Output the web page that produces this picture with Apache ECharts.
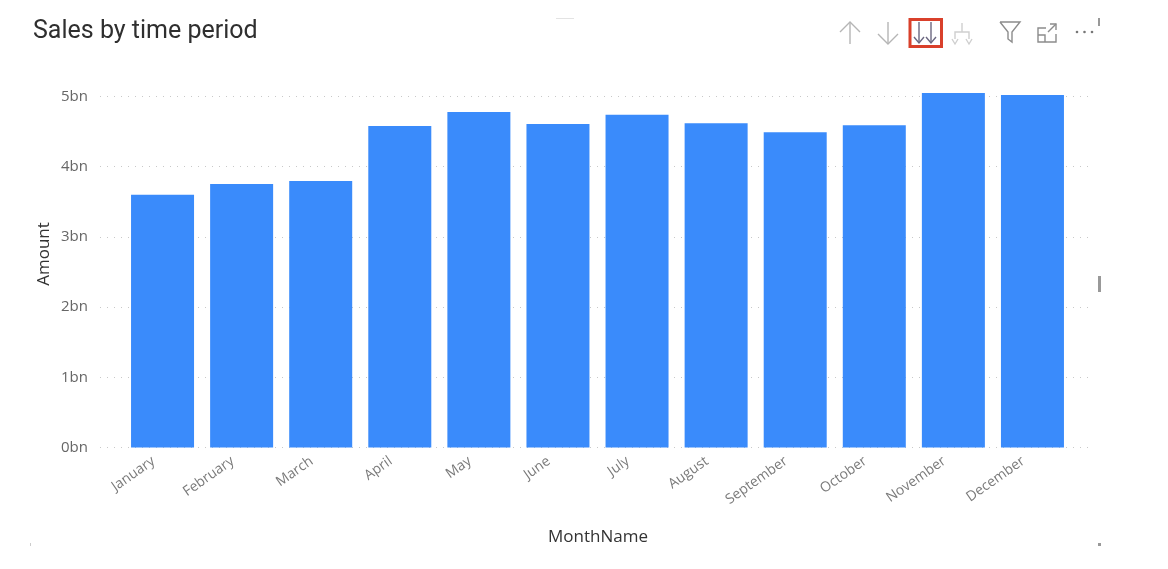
<!DOCTYPE html>
<html><head><meta charset="utf-8">
<style>html,body{margin:0;padding:0;background:#fff}#c{width:1168px;height:569px}</style>
<script src="https://cdn.jsdelivr.net/npm/echarts@6/dist/echarts.min.js"></script>
</head><body><div id="c"></div>
<script>
const categories=['January','February','March','April','May','June','July','August','September','October','November','December'];
const amounts=[3.6,3.755,3.795,4.58,4.78,4.61,4.74,4.62,4.49,4.59,5.05,5.02];
const chartTitle='Sales by time period';
const xName='MonthName', yName='Amount';
const ic=(x,y,stroke,lines)=>({type:'group',x:x,y:y,silent:true,children:lines.map(p=>({type:'polyline',shape:{points:p},style:{fill:'none',stroke:stroke,lineWidth:1.4}}))});
const chart=echarts.init(document.getElementById('c'),null,{renderer:'canvas'});
chart.setOption({
 animation:false,backgroundColor:'#fff',
 grid:[{left:100,width:994,top:26.3,height:421.2},{left:123,width:949,top:26.3,height:421.2}],
 xAxis:[
  {gridIndex:0,type:'category',data:categories,show:false},
  {gridIndex:1,type:'category',data:categories,axisLine:{show:false},axisTick:{show:false},
   axisLabel:{rotate:35,interval:0,color:'#7a7a7a',fontFamily:'Open Sans',fontSize:14,margin:6,padding:[0,11,0,0]}}
 ],
 yAxis:[
  {gridIndex:0,type:'value',min:0,max:6,interval:1,axisLine:{show:false},axisTick:{show:false},
   splitLine:{showMaxLine:false,lineStyle:{type:[1,6],color:'#c8c8c8',width:1}},
   axisLabel:{showMaxLabel:false,formatter:v=>v+'bn',color:'#666',fontFamily:'Open Sans',fontSize:15,margin:12}},
  {gridIndex:1,type:'value',min:0,max:6,interval:1,show:false}
 ],
 series:[{type:'bar',xAxisIndex:1,yAxisIndex:1,data:amounts,barWidth:63,itemStyle:{color:'#3a8bfb'}}],
 graphic:[
  {type:'text',x:33,y:19,style:{text:chartTitle,font:'25px Roboto, sans-serif',fill:'#2f2f2f'},silent:true},
  {type:'text',x:598,y:537,style:{text:xName,font:'17px "Open Sans", sans-serif',fill:'#333',align:'center',verticalAlign:'middle'}},
  {type:'text',x:44,y:254,rotation:Math.PI/2,style:{text:yName,font:'17px "Open Sans", sans-serif',fill:'#333',align:'center',verticalAlign:'middle'}},
  ic(840,22,'#b5b5b5',[[[0,10],[10,0],[20,10]],[[10,0],[10,22]]]),
  ic(878,22,'#b5b5b5',[[[0,12],[10,22],[20,12]],[[10,0],[10,22]]]),
  {type:'rect',shape:{x:910,y:19.5,width:31.5,height:27},style:{fill:'none',stroke:'#d9402b',lineWidth:3}},
  ic(914,22,'#6b6780',[[[5,0],[5,21]],[[0,15],[5,21],[10,15]],[[17,0],[17,21]],[[12,15],[17,21],[22,15]]]),
  ic(952,23,'#cfcfcf',[[[10,0],[10,9]],[[3,16],[3,9],[17,9],[17,16]],[[0,16],[3,21],[6,16]],[[14,16],[17,21],[20,16]]]),
  ic(1000,22,'#8c8c8c',[[[0,0],[20,0],[12,10],[12,20],[8,17],[8,10],[0,0]]]),
  ic(1038,24,'#8c8c8c',[[[8,4],[0,4],[0,18],[18,18],[18,10]],[[0,11],[7,11],[7,18]],[[10,8],[18,0]],[[12,0],[18,0],[18,6]]]),
  {type:'circle',shape:{cx:1077,cy:32,r:1.3},style:{fill:'#777'}},
  {type:'circle',shape:{cx:1084.5,cy:32,r:1.3},style:{fill:'#777'}},
  {type:'circle',shape:{cx:1092,cy:32,r:1.3},style:{fill:'#777'}},
  {type:'rect',shape:{x:1098,y:18,width:2,height:8},style:{fill:'#999'}},
  {type:'rect',shape:{x:1098,y:276,width:3,height:16},style:{fill:'#999'}},
  {type:'rect',shape:{x:1098,y:543,width:3,height:3},style:{fill:'#999'}},
  {type:'rect',shape:{x:30,y:543,width:1,height:3},style:{fill:'#ccc'}},
  {type:'rect',shape:{x:556,y:18,width:18,height:1},style:{fill:'#e3e3e3'}}
 ]
});
</script></body></html>
